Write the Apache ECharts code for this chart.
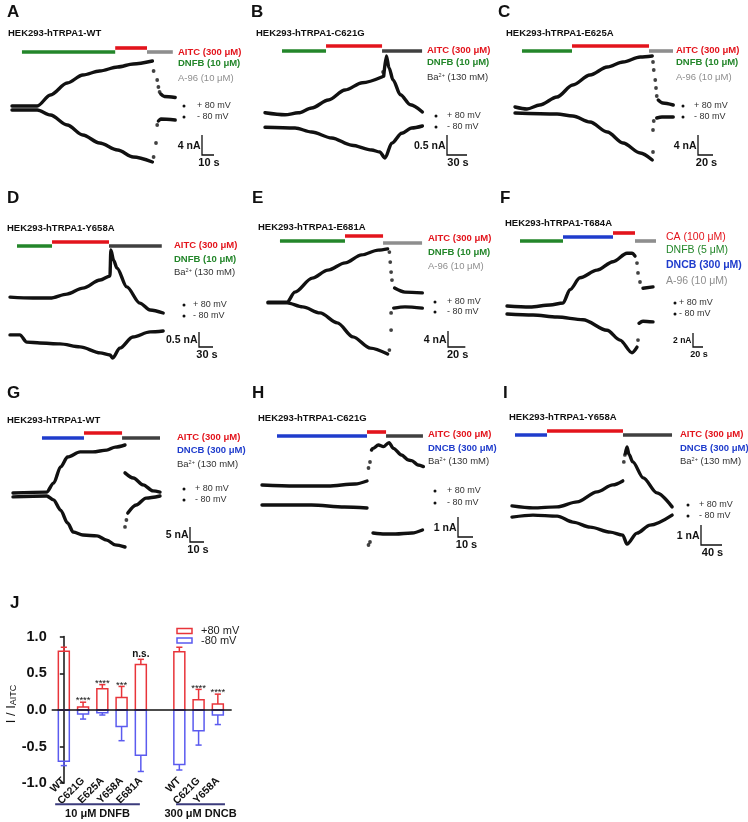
<!DOCTYPE html>
<html><head><meta charset="utf-8">
<script src="https://cdn.jsdelivr.net/npm/echarts@6/dist/echarts.min.js"></script>
<style>html,body{margin:0;padding:0;background:#fff}#c{width:748px;height:822px}</style>
</head><body><div id="c"></div><script>
// ---------- DATA (time in s, current in nA) ----------
const A_title = 'HEK293-hTRPA1-WT';
const A_pos = [[0,0.4],[21,0.4],[32,2.6],[46,5],[59,6.6],[73,7.4],[88,8.2],[101,8.8],[117,9.4],null,[124,2.8],[127,2.3],[136,2.1]];
const A_posDots = [[118,7.4],[121,5.6],[122,4.2],[123,3.2]];
const A_neg = [[0,-0.4],[21,-0.4],[32,-1.4],[46,-3.4],[59,-5.4],[73,-7],[88,-8.4],[101,-9.8],[117,-10.8],null,[122,-2.6],[124,-2.2],[136,-2.4]];
const A_negDots = [[118,-9.8],[120,-7],[121,-3.4]];
const A_drugs = [['DNFB',8.3,86],['AITC',86,112.5],['A-96',112.5,134]];
const A_legend = [['AITC','AITC (300 μM)'],['DNFB','DNFB (10 μM)'],['A-96','A-96 (10 μM)']];
const A_scale = [10,4];

const B_title = 'HEK293-hTRPA1-C621G';
const B_pos = [[0,0.18],[30,0.13],[50,0.18],[70,0.3],[95,0.5],[120,0.75],[146,0.93],[176,1.08],null,[178,1.1],[182,1.6],[186,1.3],[192,1.0],[203,0.63],[218,0.38],[236,0.2]];
const B_posDots = [[177,1.2]];
const B_neg = [[0,-0.18],[45,-0.2],[70,-0.3],[100,-0.45],[130,-0.63],[160,-0.75],[172,-0.8],[180,-0.95],[190,-0.58],[205,-0.33],[220,-0.2],[236,-0.15]];
const B_negDots = [];
const B_drugs = [['DNFB',25.5,91.5],['AITC',91.5,175.5],['Ba',175.5,235.5]];
const B_legend = [['AITC','AITC (300 μM)'],['DNFB','DNFB (10 μM)'],['Ba','Ba{s|2+} (130 mM)']];
const B_scale = [30,0.5];

const C_title = 'HEK293-hTRPA1-E625A';
const C_pos = [[0,0.6],[16,0.2],[33,1],[56,2.6],[77,5],[100,7],[123,8.6],[144,9.6],[167,10.6],[183,10.8],null,[191,2],[197,1.4],[211,1]];
const C_posDots = [[184,9.6],[185,8],[187,6],[188,4.4],[189,2.8]];
const C_neg = [[0,-0.6],[56,-0.8],[77,-1.2],[100,-2.4],[123,-4.4],[144,-6.6],[167,-8.6],[183,-10],null,[189,-1.6],[196,-1.4],[211,-1.4]];
const C_negDots = [[184,-8.4],[184,-4],[185,-2.2]];
const C_drugs = [['DNFB',9.3,76],['AITC',76,178.7],['A-96',178.7,210.7]];
const C_legend = [['AITC','AITC (300 μM)'],['DNFB','DNFB (10 μM)'],['A-96','A-96 (10 μM)']];
const C_scale = [20,4];

const D_title = 'HEK293-hTRPA1-Y658A';
const D_pos = [[0,0.63],[49,0.6],[86,0.6],[122,0.73],[156,0.93],[193,1.2],[214,1.33],[216,2.2],[222,1.85],[229,1.6],[250,0.97],[278,0.43],[300,0.2],[328,0.1]];
const D_posDots = [];
const D_neg = [[0,-0.63],[21,-0.63],[36,-0.87],[64,-0.9],[107,-0.93],[150,-1.03],[193,-1.23],[214,-1.3],[220,-1.4],[235,-1.07],[263,-0.7],[300,-0.53],[328,-0.5]];
const D_negDots = [];
const D_drugs = [['DNFB',15,90],['AITC',90,212],['Ba',212,325]];
const D_legend = [['AITC','AITC (300 μM)'],['DNFB','DNFB (10 μM)'],['Ba','Ba{s|2+} (130 mM)']];
const D_scale = [30,0.5];

const E_title = 'HEK293-hTRPA1-E681A';
const E_pos = [[0,0.1],[22,0.1],[31,2.6],[51,6.1],[69,8.1],[89,9.9],[108,11.9],[127,13.1],[138,13.4],null,[146,3.6],[158,2.6],[178,2.4]];
const E_posDots = [[140,12.6],[141,10.1],[142,7.6],[143,5.6]];
const E_neg = [[0,-0.1],[22,-0.1],[40,-1.1],[60,-2.6],[80,-5.1],[98,-8.6],[118,-11.4],[138,-12.9],null,[145,-1.4],[158,-1.1],[178,-1.4]];
const E_negDots = [[140,-11.9],[142,-6.9],[142,-2.6]];
const E_drugs = [['DNFB',13.8,88.8],['AITC',88.8,132.7],['A-96',132.7,177.7]];
const E_legend = [['AITC','AITC (300 μM)'],['DNFB','DNFB (10 μM)'],['A-96','A-96 (10 μM)']];
const E_scale = [20,4];

const F_title = 'HEK293-hTRPA1-T684A';
const F_pos = [[0,0.57],[46,0.43],[86,0.71],[112,1.0],[126,2.9],[146,4.6],[180,5.7],[212,6.9],[240,8.1],[250,8.1],[256,7.7],null,[272,3.1],[292,3.3]];
const F_posDots = [[260,6.7],[262,5.3],[266,4.0]];
const F_neg = [[0,-0.57],[52,-0.71],[100,-1.0],[152,-1.4],[200,-2.9],[226,-4.3],[250,-6.1],[260,-5.3],null,[264,-1.9],[272,-1.6],[292,-1.7]];
const F_negDots = [[262,-4.3]];
const F_drugs = [['DNFB',26,112],['DNCB',112,212],['CA',212,256],['A-96',256,298]];
const F_legend = [['CA','CA (100 μM)'],['DNFB','DNFB (5 μM)'],['DNCB','DNCB (300 μM)'],['A-96','A-96 (10 μM)']];
const F_scale = [20,2];

const G_title = 'HEK293-hTRPA1-WT';
const G_pos = [[0,0.5],[24,0.8],[29,3.8],[34,9.2],[39,12.5],[48,14.2],[57,14.2],[67,14.8],[73,15.8],[80,16.5],null,[80,7.2],[86,5.5],[93,3.2],[100,1.2],[105,0.8]];
const G_posDots = [];
const G_neg = [[0,-0.8],[24,-0.5],[29,-1.8],[34,-5.2],[39,-9.5],[43,-12.5],[50,-13.5],[60,-13.8],[67,-15.2],[73,-16.8],[80,-17.5],null,[82,-6.2],[88,-3.5],[95,-1.2],[105,-0.5]];
const G_negDots = [[80,-10.8],[81,-8.5]];
const G_drugs = [['DNCB',20.7,50.7],['AITC',50.7,77.9],['Ba',77.9,105]];
const G_legend = [['AITC','AITC (300 μM)'],['DNCB','DNCB (300 μM)'],['Ba','Ba{s|2+} (130 mM)']];
const G_scale = [10,5];

const H_title = 'HEK293-hTRPA1-C621G';
const H_pos = [[0,0.5],[22,0.45],[44,0.45],[62,0.55],[70,0.7],null,[73,2.25],[74,2.33],[77.6,2.5],[80.9,2.42],[84.7,2.62],[87.6,2.33],[93,2.0],[97.6,1.75],[99.8,1.72],[104,1.5],[107.6,1.42]];
const H_posDots = [[71,1.35],[72,1.65]];
const H_neg = [[0,-0.5],[33,-0.5],[55,-0.6],[70,-0.65],null,[74,-1.9],[82,-1.95],[89,-1.95],[100,-1.9],[107,-1.75]];
const H_negDots = [[71,-2.5],[72,-2.35]];
const H_drugs = [['DNCB',10,70],['AITC',70,82.7],['Ba',82.7,107.3]];
const H_legend = [['AITC','AITC (300 μM)'],['DNCB','DNCB (300 μM)'],['Ba','Ba{s|2+} (130 mM)']];
const H_scale = [10,1];

const I_title = 'HEK293-hTRPA1-Y658A';
const I_pos = [[0,0.28],[40,0.18],[86,0.23],[124,0.48],[162,0.98],[192,1.33],[211,1.53],null,[216,2.9],[219,3.23],[223,2.85],[230,2.48],[250,1.68],[276,0.93],[305,0.23]];
const I_posDots = [[213,2.48],[215,2.83]];
const I_neg = [[0,-0.28],[40,-0.18],[86,-0.23],[116,-0.53],[149,-0.78],[187,-1.03],[211,-1.18],[219,-1.63],[238,-1.08],[263,-0.68],[305,-0.18]];
const I_negDots = [];
const I_drugs = [['DNCB',5.7,66.7],['AITC',66.7,211.4],['Ba',211.4,304.8]];
const I_legend = [['AITC','AITC (300 μM)'],['DNCB','DNCB (300 μM)'],['Ba','Ba{s|2+} (130 mM)']];
const I_scale = [40,1];

// Panel J
const J_cats = ['WT','C621G','E625A','Y658A','E681A','','WT','C621G','Y658A'];
const J_pos = [0.80,0.04,0.29,0.17,0.62,null,0.795,0.14,0.08];
const J_posErr = [0.055,0.065,0.055,0.15,0.07,null,0.06,0.14,0.135];
const J_neg = [-0.70,-0.055,-0.04,-0.225,-0.62,null,-0.745,-0.285,-0.07];
const J_negErr = [0.06,0.07,0.03,0.195,0.22,null,0.075,0.195,0.13];
const J_sig = ['','****','****','***','n.s.','','','****','****'];
const J_groups = [['10 μM DNFB',-0.45,3.95],['300 μM DNCB',5.83,8.37]];

// ---------- LAYOUT ----------
const FONT = '"Liberation Sans", Arial, sans-serif';
const COL = {AITC:'#e3141c', CA:'#e3141c', DNFB:'#23862a', DNCB:'#1f3ccc', 'A-96':'#8e8e8e', Ba:'#404040'};
const LEG_COL = {AITC:'#e3141c', CA:'#e3141c', DNFB:'#23862a', DNCB:'#1f3ccc', 'A-96':'#8e8e8e', Ba:'#333'};
const L = {
 A:{ox:12,oy:108,sx:1.2,sy:5, letter:[7,12], title:[8,33], barPx:[52,48,52], lx:178, ly:[52,63.5,78], lb:[1,1,0], mv:[184,197,106,117], sAt:[202,155]},
 B:{ox:265,oy:120,sx:0.667,sy:40, letter:[251,12], title:[256,33], barPx:[51,46,51], lx:427, ly:[50,62.7,77], lb:[1,1,0], mv:[436,447,116,127], sAt:[447,155]},
 C:{ox:515,oy:110,sx:0.75,sy:5, letter:[498,12], title:[506,33], barPx:[51,46,51], lx:676, ly:[50,62.7,77], lb:[1,1,0], mv:[683,694,106,117], sAt:[698,155]},
 D:{ox:10,oy:316,sx:0.467,sy:30, letter:[7,198], title:[7,228], barPx:[246,242,246], lx:174, ly:[245,259,272.7], lb:[1,1,0], mv:[184,193,305,316], sAt:[199,347]},
 E:{ox:268,oy:302.5,sx:0.867,sy:4, letter:[252,198], title:[258,227], barPx:[241,236,243], lx:428, ly:[238,252.7,266], lb:[1,1,0], mv:[435,447,302,312], sAt:[448,347]},
 F:{ox:507,oy:310,sx:0.5,sy:7, letter:[500,198], title:[505,223], barPx:[241,237,233,241], lx:666, ly:[236.7,250,265,280.7], lb:[0,0,1,0], lsize:10.5, mv:[675,679,303,314], sAt:[693,347], sfont:8.5},
 G:{ox:13,oy:494.5,sx:1.4,sy:3, letter:[7,393], title:[7,420], barPx:[438,433,438], lx:177, ly:[437.3,450.7,464], lb:[1,1,0], mv:[184,195,489,500], sAt:[190,542]},
 H:{ox:262,oy:495,sx:1.5,sy:20, letter:[252,393], title:[258,418], barPx:[436,432,436], lx:428, ly:[434.3,448.3,461.7], lb:[1,1,0], mv:[435,447,491,503], sAt:[458,537]},
 I:{ox:512,oy:511.5,sx:0.525,sy:20, letter:[503,393], title:[509,417], barPx:[435,431,435], lx:680, ly:[434.3,448.3,461.7], lb:[1,1,0], mv:[688,699,505,516], sAt:[701,545]}
};
const D = {
 A:{title:A_title,pos:A_pos,posDots:A_posDots,neg:A_neg,negDots:A_negDots,drugs:A_drugs,legend:A_legend,scale:A_scale},
 B:{title:B_title,pos:B_pos,posDots:B_posDots,neg:B_neg,negDots:B_negDots,drugs:B_drugs,legend:B_legend,scale:B_scale},
 C:{title:C_title,pos:C_pos,posDots:C_posDots,neg:C_neg,negDots:C_negDots,drugs:C_drugs,legend:C_legend,scale:C_scale},
 D:{title:D_title,pos:D_pos,posDots:D_posDots,neg:D_neg,negDots:D_negDots,drugs:D_drugs,legend:D_legend,scale:D_scale},
 E:{title:E_title,pos:E_pos,posDots:E_posDots,neg:E_neg,negDots:E_negDots,drugs:E_drugs,legend:E_legend,scale:E_scale},
 F:{title:F_title,pos:F_pos,posDots:F_posDots,neg:F_neg,negDots:F_negDots,drugs:F_drugs,legend:F_legend,scale:F_scale},
 G:{title:G_title,pos:G_pos,posDots:G_posDots,neg:G_neg,negDots:G_negDots,drugs:G_drugs,legend:G_legend,scale:G_scale},
 H:{title:H_title,pos:H_pos,posDots:H_posDots,neg:H_neg,negDots:H_negDots,drugs:H_drugs,legend:H_legend,scale:H_scale},
 I:{title:I_title,pos:I_pos,posDots:I_posDots,neg:I_neg,negDots:I_negDots,drugs:I_drugs,legend:I_legend,scale:I_scale}
};

function segs(arr){const s=[[]];arr.forEach(p=>{if(p===null)s.push([]);else s[s.length-1].push(p);});return s.filter(x=>x.length);}
function txt(x,y,text,o){return {type:'text',silent:true,z:100,style:Object.assign({x:x,y:y,text:text,fontFamily:FONT,fontSize:9.5,fill:'#111',align:'left',verticalAlign:'middle'},o||{})};}

const grids=[],xAxes=[],yAxes=[],series=[],graphics=[];
const ids=['A','B','C','D','E','F','G','H','I'];
ids.forEach((id,k)=>{
  const l=L[id], d=D[id];
  grids.push({left:0,top:0,width:748,height:822});
  xAxes.push({gridIndex:k,type:'value',show:false,min:-l.ox/l.sx,max:(748-l.ox)/l.sx});
  yAxes.push({gridIndex:k,type:'value',show:false,min:(l.oy-822)/l.sy,max:l.oy/l.sy});
  const base={xAxisIndex:k,yAxisIndex:k,silent:true,animation:false,clip:false};
  [d.pos,d.neg].forEach(tr=>segs(tr).forEach(sg=>series.push(Object.assign({type:'line',data:sg,showSymbol:false,smooth:0.3,smoothMonotone:'x',z:5,
      lineStyle:{color:'#111',width:3.4,cap:'round',join:'round'}},base))));
  [d.posDots,d.negDots].forEach(dt=>{if(dt.length)series.push(Object.assign({type:'scatter',data:dt,symbolSize:3.8,itemStyle:{color:'#111'},z:5},base));});
  d.drugs.forEach((dr,i)=>{const y=(l.oy-l.barPx[i])/l.sy;
    series.push(Object.assign({type:'line',data:[[dr[1],y],[dr[2],y]],showSymbol:false,z:4,lineStyle:{color:COL[dr[0]],width:3.6,cap:'butt'}},base));});
  // scale bar
  const st=(l.sAt[0]-l.ox)/l.sx, si=(l.oy-l.sAt[1])/l.sy;
  series.push(Object.assign({type:'line',data:[[st,si+d.scale[1]],[st,si],[st+d.scale[0],si]],showSymbol:false,z:4,lineStyle:{color:'#111',width:1.3,join:'miter'}},base));
  const hPx=d.scale[0]*l.sx, vPx=d.scale[1]*l.sy, sf=l.sfont||10.5;
  graphics.push(txt(l.sAt[0]-1.5,l.sAt[1]-vPx*0.45,d.scale[1]+' nA',{fontWeight:'bold',fontSize:sf,align:'right'}));
  graphics.push(txt(l.sAt[0]+hPx/2+1,l.sAt[1]+7.5,d.scale[0]+' s',{fontWeight:'bold',fontSize:sf+0.5,align:'center'}));
  // letter & title
  graphics.push(txt(l.letter[0],l.letter[1],id,{fontWeight:'bold',fontSize:17}));
  graphics.push(txt(l.title[0],l.title[1],d.title,{fontWeight:'bold',fontSize:9.5}));
  // legend
  d.legend.forEach((lg,i)=>graphics.push(txt(l.lx,l.ly[i],lg[1],{fill:LEG_COL[lg[0]],fontWeight:l.lb[i]?'bold':'normal',fontSize:l.lsize||9.5,
     rich:{s:{fontSize:5.5,verticalAlign:'top',fill:LEG_COL[lg[0]],fontFamily:FONT,lineHeight:6}}})));
  // mV legend
  [['+ 80 mV',l.mv[2]],['- 80 mV',l.mv[3]]].forEach(m=>{
    graphics.push({type:'circle',silent:true,shape:{cx:l.mv[0],cy:m[1],r:1.5},style:{fill:'#111'}});
    graphics.push(txt(l.mv[1],m[1],m[0],{fontSize:9,fill:'#333'}));
  });
});

// ---------- Panel J ----------
const jk=ids.length;
grids.push({left:51.7,top:636.6,width:180,height:146.6});
xAxes.push({gridIndex:jk,type:'value',min:-0.63,max:8.72,axisLine:{show:false},axisTick:{show:false},splitLine:{show:false},
  axisLabel:{customValues:J_cats.map((c,i)=>c?i:null).filter(v=>v!==null),formatter:v=>J_cats[Math.round(v)],rotate:45,margin:-4,
  fontFamily:FONT,fontWeight:'bold',fontSize:10.5,color:'#111'}});
yAxes.push({gridIndex:jk,type:'value',min:-1,max:1,interval:0.5,splitLine:{show:false},
  axisLine:{show:true,lineStyle:{color:'#111',width:1.5}},axisTick:{show:true,length:4,lineStyle:{color:'#111',width:1.5}},
  axisLabel:{margin:5,formatter:v=>v.toFixed(1),fontFamily:FONT,fontWeight:'bold',fontSize:14.5,color:'#111'}});
function barItem(color,sign){return function(params,api){
  const i=api.value(0),m=api.value(1),e=api.value(2),t=m+sign*e;
  const a=api.coord([i-0.285,0]),b=api.coord([i+0.285,m]),c=api.coord([i,m]),p=api.coord([i,t]);
  const cl=api.coord([i-0.16,t]),cr=api.coord([i+0.16,t]);
  const st={stroke:color,lineWidth:1.5,fill:null};
  return {type:'group',children:[
    {type:'rect',shape:{x:Math.min(a[0],b[0]),y:Math.min(a[1],b[1]),width:Math.abs(b[0]-a[0]),height:Math.abs(b[1]-a[1])},style:{stroke:color,lineWidth:1.5,fill:'rgba(0,0,0,0)'}},
    {type:'line',shape:{x1:c[0],y1:c[1],x2:p[0],y2:p[1]},style:st},
    {type:'line',shape:{x1:cl[0],y1:cl[1],x2:cr[0],y2:cr[1]},style:st}]};
};}
const jb={xAxisIndex:jk,yAxisIndex:jk,silent:true,animation:false};
series.push(Object.assign({type:'custom',renderItem:barItem('#e8343a',1),data:J_pos.map((v,i)=>v==null?null:[i,v,J_posErr[i]]).filter(Boolean),z:3},jb));
series.push(Object.assign({type:'custom',renderItem:barItem('#5b5bef',-1),data:J_neg.map((v,i)=>v==null?null:[i,v,J_negErr[i]]).filter(Boolean),z:3,
  markLine:{silent:true,symbol:'none',label:{show:false},lineStyle:{color:'#111',width:1.5,type:'solid'},data:[{yAxis:0}],animation:false}},jb));
series.push(Object.assign({type:'custom',z:6,data:J_sig.map((s,i)=>s?[i,J_pos[i]+J_posErr[i],s]:null).filter(Boolean),
  renderItem:(params,api)=>{const p=api.coord([api.value(0),api.value(1)]);const s=J_sig[api.value(0)];const ns=s==='n.s.';
    return {type:'text',style:{x:p[0],y:p[1]-(ns?5.5:1.5),text:s,align:'center',verticalAlign:'middle',fontFamily:FONT,fontSize:ns?10:9.5,fontWeight:ns?'bold':'normal',fill:'#111'}};}},jb));
series.push(Object.assign({type:'custom',z:6,clip:false,data:J_groups.map((g,i)=>[g[1],g[2],i]),
  renderItem:(params,api)=>{const g=J_groups[api.value(2)];const a=api.coord([g[1],-1]),b=api.coord([g[2],-1]);const y=a[1]+21;
    return {type:'group',children:[{type:'line',shape:{x1:a[0],y1:y,x2:b[0],y2:y},style:{stroke:'#3b3b7c',lineWidth:2}},
      {type:'text',style:{x:(a[0]+b[0])/2,y:y+10,text:g[0],align:'center',verticalAlign:'middle',fontFamily:FONT,fontSize:11,fontWeight:'bold',fill:'#111'}}]};}},jb));
graphics.push(txt(10,603,'J',{fontWeight:'bold',fontSize:17}));
graphics.push({type:'rect',silent:true,shape:{x:177,y:628.5,width:15,height:5},style:{fill:'none',stroke:'#e8343a',lineWidth:1.5}});
graphics.push({type:'rect',silent:true,shape:{x:177,y:638,width:15,height:5},style:{fill:'none',stroke:'#5b5bef',lineWidth:1.5}});
graphics.push(txt(201,631,'+80 mV',{fontSize:11,fill:'#222'}));
graphics.push(txt(201,641,'-80 mV',{fontSize:11,fill:'#222'}));
graphics.push({type:'text',silent:true,x:11,y:704,rotation:Math.PI/2,style:{text:'I / I{sub|AITC}',fontFamily:FONT,fontSize:13,fill:'#111',align:'center',verticalAlign:'middle',
  rich:{sub:{fontSize:9,fontFamily:FONT,fill:'#111',verticalAlign:'bottom',padding:[5,0,0,0]}}}});

const chart=echarts.init(document.getElementById('c'),null,{renderer:'canvas'});
chart.setOption({animation:false,grid:grids,xAxis:xAxes,yAxis:yAxes,series:series,graphic:{elements:graphics}});
</script></body></html>
